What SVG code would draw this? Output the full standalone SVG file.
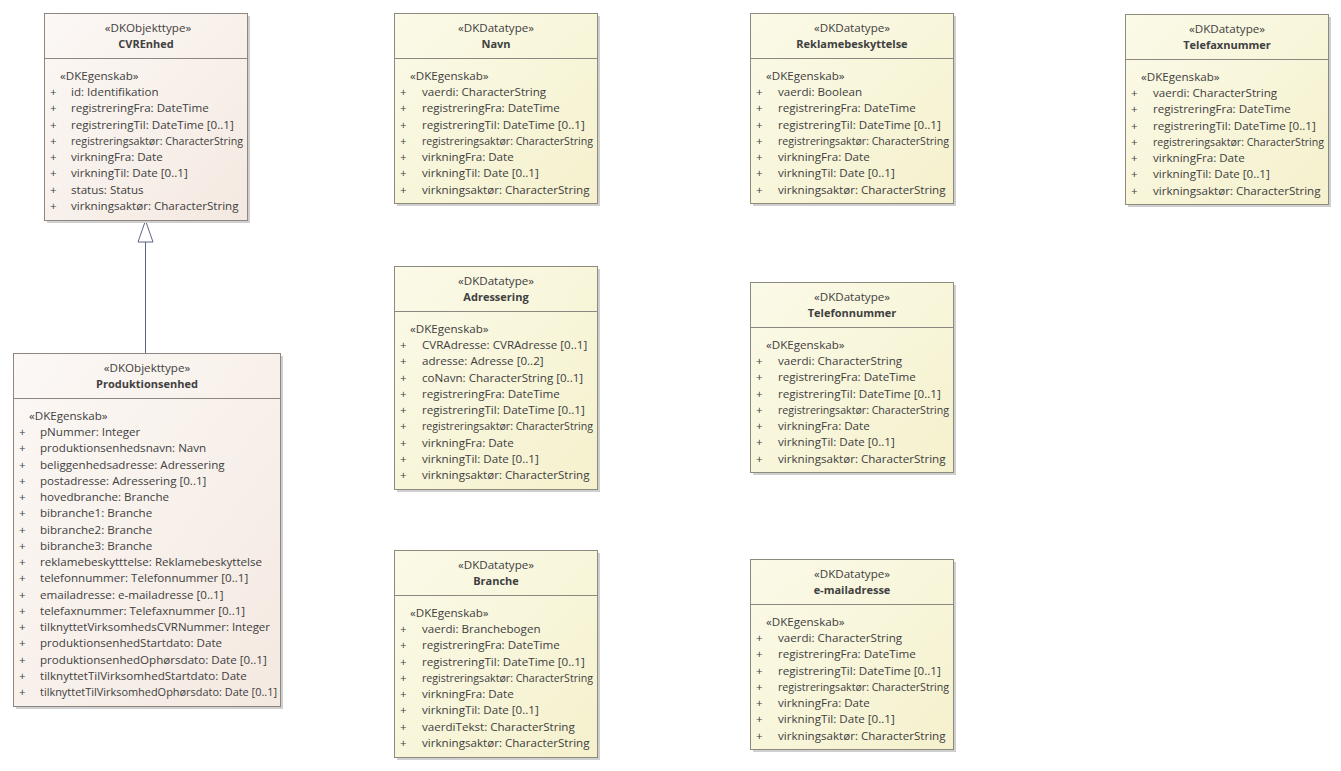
<svg xmlns="http://www.w3.org/2000/svg" width="1341" height="771" viewBox="0 0 1341 771">
<defs>
<linearGradient id="gObj" x1="0" y1="0" x2="1" y2="1">
<stop offset="0" stop-color="#FCF8F5"/>
<stop offset="1" stop-color="#F4E9E1"/>
</linearGradient>
<linearGradient id="gDat" x1="0" y1="0" x2="1" y2="1">
<stop offset="0" stop-color="#FBFAE8"/>
<stop offset="1" stop-color="#F5F1CD"/>
</linearGradient>
<style>
.sh{fill:#CFCFCF;}
.obj{fill:url(#gObj);stroke:#8E8680;stroke-width:1;}
.dat{fill:url(#gDat);stroke:#8E8A7C;stroke-width:1;}
.div{stroke:#8E8680;stroke-width:1;}
text{font-family:"Open Sans","Noto Sans","Liberation Sans",sans-serif;font-size:11.6px;fill:#404040;}
.c{text-anchor:middle;}
.b{font-weight:bold;font-size:11px;}
.conn{stroke:#5B6684;stroke-width:1;fill:none;}
.gen{fill:#FFFFFF;stroke:#5B6684;stroke-width:1;}
</style>
</defs>
<rect width="1341" height="771" fill="#FFFFFF"/>

<g id="connectors">
<line class="conn" x1="145.5" y1="353" x2="145.5" y2="242"/>
<polygon class="gen" points="145.5,220.5 138,242 153,242"/>
</g>

<g id="CVREnhed">
<rect class="sh" x="47" y="16" width="203" height="207"/>
<rect class="obj" x="44.5" y="13.5" width="203" height="207"/>
<line class="div" x1="44.5" y1="58.5" x2="247.5" y2="58.5"/>
<text class="c" x="148" y="32">«DKObjekttype»</text>
<text class="c b" x="146" y="48">CVREnhed</text>
<text x="60" y="80">«DKEgenskab»</text>
<text x="50" y="96">+</text><text x="71" y="96">id: Identifikation</text>
<text x="50" y="112.3">+</text><text x="71" y="112.3">registreringFra: DateTime</text>
<text x="50" y="128.5">+</text><text x="71" y="128.5">registreringTil: DateTime [0..1]</text>
<text x="50" y="144.8">+</text><text x="71" y="144.8" textLength="172" lengthAdjust="spacingAndGlyphs">registreringsaktør: CharacterString</text>
<text x="50" y="161">+</text><text x="71" y="161">virkningFra: Date</text>
<text x="50" y="177.3">+</text><text x="71" y="177.3">virkningTil: Date [0..1]</text>
<text x="50" y="193.5">+</text><text x="71" y="193.5">status: Status</text>
<text x="50" y="209.8">+</text><text x="71" y="209.8">virkningsaktør: CharacterString</text>
</g>

<g id="Produktionsenhed">
<rect class="sh" x="16" y="356" width="267" height="353"/>
<rect class="obj" x="13.5" y="353.5" width="267" height="353"/>
<line class="div" x1="13.5" y1="398.5" x2="280.5" y2="398.5"/>
<text class="c" x="147" y="372">«DKObjekttype»</text>
<text class="c b" x="147" y="388">Produktionsenhed</text>
<text x="29" y="420">«DKEgenskab»</text>
<text x="19" y="436">+</text><text x="40" y="436">pNummer: Integer</text>
<text x="19" y="452.3">+</text><text x="40" y="452.3">produktionsenhedsnavn: Navn</text>
<text x="19" y="468.5">+</text><text x="40" y="468.5">beliggenhedsadresse: Adressering</text>
<text x="19" y="484.8">+</text><text x="40" y="484.8">postadresse: Adressering [0..1]</text>
<text x="19" y="501">+</text><text x="40" y="501">hovedbranche: Branche</text>
<text x="19" y="517.3">+</text><text x="40" y="517.3">bibranche1: Branche</text>
<text x="19" y="533.5">+</text><text x="40" y="533.5">bibranche2: Branche</text>
<text x="19" y="549.8">+</text><text x="40" y="549.8">bibranche3: Branche</text>
<text x="19" y="566">+</text><text x="40" y="566">reklamebeskytttelse: Reklamebeskyttelse</text>
<text x="19" y="582.3">+</text><text x="40" y="582.3">telefonnummer: Telefonnummer [0..1]</text>
<text x="19" y="598.5">+</text><text x="40" y="598.5">emailadresse: e-mailadresse [0..1]</text>
<text x="19" y="614.8">+</text><text x="40" y="614.8">telefaxnummer: Telefaxnummer [0..1]</text>
<text x="19" y="631">+</text><text x="40" y="631" textLength="230" lengthAdjust="spacingAndGlyphs">tilknyttetVirksomhedsCVRNummer: Integer</text>
<text x="19" y="647.3">+</text><text x="40" y="647.3">produktionsenhedStartdato: Date</text>
<text x="19" y="663.5">+</text><text x="40" y="663.5">produktionsenhedOphørsdato: Date [0..1]</text>
<text x="19" y="679.8">+</text><text x="40" y="679.8">tilknyttetTilVirksomhedStartdato: Date</text>
<text x="19" y="696">+</text><text x="40" y="696" textLength="237" lengthAdjust="spacingAndGlyphs">tilknyttetTilVirksomhedOphørsdato: Date [0..1]</text>
</g>

<g id="Navn">
<rect class="sh" x="397" y="16" width="203" height="190"/>
<rect class="dat" x="394.5" y="13.5" width="203" height="190"/>
<line class="div" x1="394.5" y1="58.5" x2="597.5" y2="58.5"/>
<text class="c" x="496" y="32">«DKDatatype»</text>
<text class="c b" x="496" y="48">Navn</text>
<text x="410" y="80">«DKEgenskab»</text>
<text x="400" y="96">+</text><text x="422" y="96">vaerdi: CharacterString</text>
<text x="400" y="112.3">+</text><text x="422" y="112.3">registreringFra: DateTime</text>
<text x="400" y="128.5">+</text><text x="422" y="128.5">registreringTil: DateTime [0..1]</text>
<text x="400" y="144.8">+</text><text x="422" y="144.8" textLength="171" lengthAdjust="spacingAndGlyphs">registreringsaktør: CharacterString</text>
<text x="400" y="161">+</text><text x="422" y="161">virkningFra: Date</text>
<text x="400" y="177.3">+</text><text x="422" y="177.3">virkningTil: Date [0..1]</text>
<text x="400" y="193.5">+</text><text x="422" y="193.5">virkningsaktør: CharacterString</text>
</g>

<g id="Reklamebeskyttelse">
<rect class="sh" x="753" y="16" width="203" height="190"/>
<rect class="dat" x="750.5" y="13.5" width="203" height="190"/>
<line class="div" x1="750.5" y1="58.5" x2="953.5" y2="58.5"/>
<text class="c" x="852" y="32">«DKDatatype»</text>
<text class="c b" x="852" y="48">Reklamebeskyttelse</text>
<text x="766" y="80">«DKEgenskab»</text>
<text x="756" y="96">+</text><text x="778" y="96">vaerdi: Boolean</text>
<text x="756" y="112.3">+</text><text x="778" y="112.3">registreringFra: DateTime</text>
<text x="756" y="128.5">+</text><text x="778" y="128.5">registreringTil: DateTime [0..1]</text>
<text x="756" y="144.8">+</text><text x="778" y="144.8" textLength="171" lengthAdjust="spacingAndGlyphs">registreringsaktør: CharacterString</text>
<text x="756" y="161">+</text><text x="778" y="161">virkningFra: Date</text>
<text x="756" y="177.3">+</text><text x="778" y="177.3">virkningTil: Date [0..1]</text>
<text x="756" y="193.5">+</text><text x="778" y="193.5">virkningsaktør: CharacterString</text>
</g>

<g id="Telefaxnummer">
<rect class="sh" x="1128" y="17" width="203" height="190"/>
<rect class="dat" x="1125.5" y="14.5" width="203" height="190"/>
<line class="div" x1="1125.5" y1="59.5" x2="1328.5" y2="59.5"/>
<text class="c" x="1227" y="33">«DKDatatype»</text>
<text class="c b" x="1227" y="49">Telefaxnummer</text>
<text x="1141" y="81">«DKEgenskab»</text>
<text x="1131" y="97">+</text><text x="1153" y="97">vaerdi: CharacterString</text>
<text x="1131" y="113.3">+</text><text x="1153" y="113.3">registreringFra: DateTime</text>
<text x="1131" y="129.5">+</text><text x="1153" y="129.5">registreringTil: DateTime [0..1]</text>
<text x="1131" y="145.8">+</text><text x="1153" y="145.8" textLength="171" lengthAdjust="spacingAndGlyphs">registreringsaktør: CharacterString</text>
<text x="1131" y="162">+</text><text x="1153" y="162">virkningFra: Date</text>
<text x="1131" y="178.3">+</text><text x="1153" y="178.3">virkningTil: Date [0..1]</text>
<text x="1131" y="194.5">+</text><text x="1153" y="194.5">virkningsaktør: CharacterString</text>
</g>

<g id="Adressering">
<rect class="sh" x="397" y="269" width="203" height="223"/>
<rect class="dat" x="394.5" y="266.5" width="203" height="223"/>
<line class="div" x1="394.5" y1="311.5" x2="597.5" y2="311.5"/>
<text class="c" x="496" y="285">«DKDatatype»</text>
<text class="c b" x="496" y="301">Adressering</text>
<text x="410" y="333">«DKEgenskab»</text>
<text x="400" y="349">+</text><text x="422" y="349">CVRAdresse: CVRAdresse [0..1]</text>
<text x="400" y="365.3">+</text><text x="422" y="365.3">adresse: Adresse [0..2]</text>
<text x="400" y="381.5">+</text><text x="422" y="381.5">coNavn: CharacterString [0..1]</text>
<text x="400" y="397.8">+</text><text x="422" y="397.8">registreringFra: DateTime</text>
<text x="400" y="414">+</text><text x="422" y="414">registreringTil: DateTime [0..1]</text>
<text x="400" y="430.3">+</text><text x="422" y="430.3" textLength="171" lengthAdjust="spacingAndGlyphs">registreringsaktør: CharacterString</text>
<text x="400" y="446.5">+</text><text x="422" y="446.5">virkningFra: Date</text>
<text x="400" y="462.8">+</text><text x="422" y="462.8">virkningTil: Date [0..1]</text>
<text x="400" y="479">+</text><text x="422" y="479">virkningsaktør: CharacterString</text>
</g>

<g id="Branche">
<rect class="sh" x="397" y="553" width="203" height="207"/>
<rect class="dat" x="394.5" y="550.5" width="203" height="207"/>
<line class="div" x1="394.5" y1="595.5" x2="597.5" y2="595.5"/>
<text class="c" x="496" y="569">«DKDatatype»</text>
<text class="c b" x="496" y="585">Branche</text>
<text x="410" y="617">«DKEgenskab»</text>
<text x="400" y="633">+</text><text x="422" y="633">vaerdi: Branchebogen</text>
<text x="400" y="649.3">+</text><text x="422" y="649.3">registreringFra: DateTime</text>
<text x="400" y="665.5">+</text><text x="422" y="665.5">registreringTil: DateTime [0..1]</text>
<text x="400" y="681.8">+</text><text x="422" y="681.8" textLength="171" lengthAdjust="spacingAndGlyphs">registreringsaktør: CharacterString</text>
<text x="400" y="698">+</text><text x="422" y="698">virkningFra: Date</text>
<text x="400" y="714.3">+</text><text x="422" y="714.3">virkningTil: Date [0..1]</text>
<text x="400" y="730.5">+</text><text x="422" y="730.5">vaerdiTekst: CharacterString</text>
<text x="400" y="746.8">+</text><text x="422" y="746.8">virkningsaktør: CharacterString</text>
</g>

<g id="Telefonnummer">
<rect class="sh" x="753" y="285" width="203" height="190"/>
<rect class="dat" x="750.5" y="282.5" width="203" height="190"/>
<line class="div" x1="750.5" y1="327.5" x2="953.5" y2="327.5"/>
<text class="c" x="852" y="301">«DKDatatype»</text>
<text class="c b" x="852" y="317">Telefonnummer</text>
<text x="766" y="349">«DKEgenskab»</text>
<text x="756" y="365">+</text><text x="778" y="365">vaerdi: CharacterString</text>
<text x="756" y="381.3">+</text><text x="778" y="381.3">registreringFra: DateTime</text>
<text x="756" y="397.5">+</text><text x="778" y="397.5">registreringTil: DateTime [0..1]</text>
<text x="756" y="413.8">+</text><text x="778" y="413.8" textLength="171" lengthAdjust="spacingAndGlyphs">registreringsaktør: CharacterString</text>
<text x="756" y="430">+</text><text x="778" y="430">virkningFra: Date</text>
<text x="756" y="446.3">+</text><text x="778" y="446.3">virkningTil: Date [0..1]</text>
<text x="756" y="462.5">+</text><text x="778" y="462.5">virkningsaktør: CharacterString</text>
</g>

<g id="e-mailadresse">
<rect class="sh" x="753" y="562" width="203" height="190"/>
<rect class="dat" x="750.5" y="559.5" width="203" height="190"/>
<line class="div" x1="750.5" y1="604.5" x2="953.5" y2="604.5"/>
<text class="c" x="852" y="578">«DKDatatype»</text>
<text class="c b" x="852" y="594">e-mailadresse</text>
<text x="766" y="626">«DKEgenskab»</text>
<text x="756" y="642">+</text><text x="778" y="642">vaerdi: CharacterString</text>
<text x="756" y="658.3">+</text><text x="778" y="658.3">registreringFra: DateTime</text>
<text x="756" y="674.5">+</text><text x="778" y="674.5">registreringTil: DateTime [0..1]</text>
<text x="756" y="690.8">+</text><text x="778" y="690.8" textLength="171" lengthAdjust="spacingAndGlyphs">registreringsaktør: CharacterString</text>
<text x="756" y="707">+</text><text x="778" y="707">virkningFra: Date</text>
<text x="756" y="723.3">+</text><text x="778" y="723.3">virkningTil: Date [0..1]</text>
<text x="756" y="739.5">+</text><text x="778" y="739.5">virkningsaktør: CharacterString</text>
</g>
</svg>
